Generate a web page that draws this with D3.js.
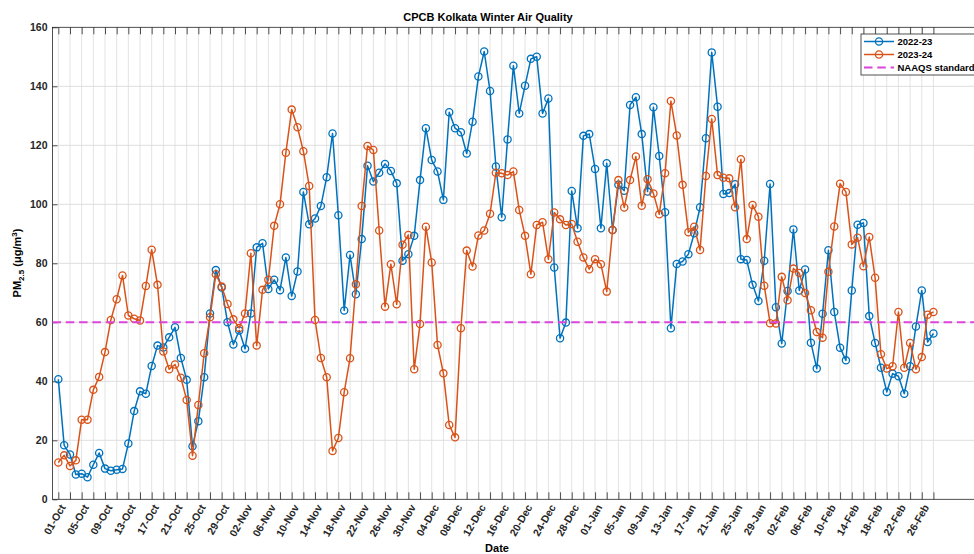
<!DOCTYPE html>
<html>
<head>
<meta charset="utf-8">
<script src="https://cdn.jsdelivr.net/npm/d3@7/dist/d3.min.js"></script>
<style>
  html, body { margin: 0; padding: 0; background: #fff; }
  svg { display: block; font-family: "Liberation Sans", Arial, Helvetica, sans-serif; }
</style>
</head>
<body>
<svg id="chart" width="974" height="554"></svg>
<script>
// Daily PM2.5 (µg/m³), 01-Oct through 28-Feb, one value per day
const season2022 = [
  40.7, 18.3, 15.2, 8.4, 8.7, 7.5, 11.7, 15.7, 10.4, 9.7,
  10.0, 10.3, 18.9, 29.9, 36.6, 35.8, 45.2, 52.1, 51.5, 54.9,
  58.3, 47.9, 40.5, 18.0, 26.5, 41.4, 63.0, 77.7, 71.8, 60.0,
  52.5, 57.2, 51.0, 63.0, 85.4, 86.8, 71.3, 74.4, 70.9, 82.0,
  68.9, 77.2, 104.2, 93.2, 95.2, 99.4, 109.2, 124.0, 96.3, 64.0,
  82.8, 69.5, 88.2, 113.1, 107.7, 110.7, 113.7, 111.3, 107.1, 80.9,
  83.1, 89.3, 108.2, 125.8, 115.0, 111.1, 101.5, 131.2, 125.8, 124.4,
  117.2, 128.0, 143.3, 151.8, 138.4, 112.8, 95.6, 122.0, 147.0, 130.8,
  140.2, 149.3, 150.0, 130.8, 135.9, 78.6, 54.6, 59.9, 104.5, 91.9,
  123.2, 123.8, 112.0, 91.9, 113.9, 91.3, 106.6, 104.6, 133.7, 136.3,
  123.8, 104.3, 132.9, 116.4, 97.3, 58.0, 79.8, 80.6, 83.1, 90.2,
  99.0, 122.4, 151.5, 133.1, 103.5, 103.8, 106.8, 81.4, 81.1, 72.7,
  67.2, 80.9, 106.9, 65.1, 52.8, 70.6, 91.5, 70.8, 77.9, 53.1,
  44.3, 62.9, 84.4, 63.5, 51.4, 47.1, 70.8, 93.1, 93.7, 62.1,
  53.0, 44.6, 36.4, 42.6, 41.7, 35.8, 45.1, 58.6, 70.8, 53.3,
  56.2
];
const season2023 = [
  12.5, 14.9, 11.3, 13.2, 27.0, 27.0, 37.1, 41.5, 49.9, 60.8,
  67.8, 75.9, 62.3, 61.2, 60.6, 72.3, 84.6, 72.7, 50.1, 44.1,
  45.7, 41.2, 33.7, 14.8, 32.0, 49.5, 61.7, 76.3, 72.1, 66.2,
  61.0, 58.1, 63.0, 83.4, 52.1, 71.0, 74.4, 92.7, 100.0, 117.5,
  132.1, 126.1, 118.0, 106.2, 60.8, 47.9, 41.4, 16.4, 20.8, 36.3,
  47.8, 72.9, 99.4, 119.8, 118.4, 91.1, 65.3, 79.7, 66.1, 86.3,
  89.6, 44.1, 59.4, 92.4, 80.3, 52.3, 42.7, 25.2, 21.0, 58.0,
  84.3, 78.9, 89.4, 91.1, 96.8, 110.7, 110.5, 109.9, 111.1, 98.1,
  89.3, 76.3, 93.0, 93.9, 81.4, 97.2, 94.9, 93.0, 93.3, 87.3,
  82.0, 78.0, 81.4, 79.7, 70.4, 91.3, 108.2, 98.9, 108.2, 116.2,
  99.5, 108.5, 103.7, 96.6, 110.5, 135.0, 123.3, 106.6, 90.5, 92.4,
  84.5, 109.6, 128.9, 109.9, 109.0, 108.8, 99.0, 115.3, 88.2, 99.8,
  95.8, 72.4, 59.7, 59.6, 75.4, 67.5, 78.2, 76.7, 69.9, 64.1,
  56.7, 54.8, 77.1, 92.5, 107.0, 104.2, 86.4, 88.7, 79.0, 88.9,
  75.1, 49.2, 44.3, 45.1, 63.5, 44.6, 53.0, 44.1, 48.2, 62.6,
  63.5
];
const seriesNames = ["2022-23", "2023-24"];
const seriesColors = ["#0072BD", "#D95319"];
const standardLabel = "NAAQS standard";
const standardValue = 60;
const yTicks = [0, 20, 40, 60, 80, 100, 120, 140, 160];
const titleText = "CPCB Kolkata Winter Air Quality";
const xLabelText = "Date";

// Calendar of the season (year only used for day arithmetic)
const seasonStart = new Date(2022, 9, 1);
const days = d3.timeDay.range(seasonStart, d3.timeDay.offset(seasonStart, season2022.length));
const fmt = d3.timeFormat("%d-%b");
const tickDays = days.filter((d, i) => i % 2 === 0);
const labelDays = days.filter((d, i) => i % 4 === 0);

const svg = d3.select("#chart");
const plot = { left: 52.5, top: 27.3, bottom: 499.3 };
const dayPx = 5.834;

const x = d3.scaleTime()
  .domain([d3.timeDay.offset(seasonStart, -1), d3.timeDay.offset(seasonStart, 158)])
  .range([plot.left, plot.left + 159 * dayPx]);
const y = d3.scaleLinear().domain([0, 160]).range([plot.bottom, plot.top]);
const plotRight = x.range()[1];

// grid
const grid = svg.append("g");
grid.selectAll("line.v").data(tickDays).join("line")
  .attr("x1", d => x(d)).attr("x2", d => x(d))
  .attr("y1", plot.top).attr("y2", plot.bottom)
  .attr("stroke", "#e3e3e3").attr("stroke-width", 1);
grid.selectAll("line.h").data(yTicks.slice(1, -1)).join("line")
  .attr("x1", plot.left).attr("x2", plotRight)
  .attr("y1", d => y(d)).attr("y2", d => y(d))
  .attr("stroke", "#dedede").attr("stroke-width", 1);

// axes box
const axisColor = "#262626";
svg.append("rect")
  .attr("x", plot.left).attr("y", plot.top)
  .attr("width", plotRight - plot.left).attr("height", plot.bottom - plot.top)
  .attr("fill", "none").attr("stroke", axisColor).attr("stroke-width", 0.8);

// bottom axis: inward ticks every 2 days, labels every 4 days
const xAxis = d3.axisBottom(x).tickValues(tickDays).tickSize(-7).tickFormat(d =>
  labelDays.some(l => +l === +d) ? fmt(d) : "");
const gx = svg.append("g").attr("transform", `translate(0,${plot.bottom})`).call(xAxis);
gx.select(".domain").remove();
gx.selectAll(".tick line").attr("stroke", axisColor).attr("stroke-width", 0.8);
gx.selectAll(".tick text")
  .attr("fill", axisColor)
  .style("font-size", "10.5px").style("font-weight", "bold")
  .attr("text-anchor", "end")
  .attr("transform", "translate(4,6) rotate(-60)")
  .attr("x", 0).attr("y", 0).attr("dy", "0.35em");

// top axis ticks (mirrored)
const gxt = svg.append("g").attr("transform", `translate(0,${plot.top})`)
  .call(d3.axisTop(x).tickValues(tickDays).tickSize(-7).tickFormat(""));
gxt.select(".domain").remove();
gxt.selectAll(".tick line").attr("stroke", axisColor).attr("stroke-width", 0.8);

// left axis
const gy = svg.append("g").attr("transform", `translate(${plot.left},0)`)
  .call(d3.axisLeft(y).tickValues(yTicks).tickSize(-5).tickPadding(5));
gy.select(".domain").remove();
gy.selectAll(".tick line").attr("stroke", axisColor).attr("stroke-width", 0.8);
gy.selectAll(".tick text").attr("fill", axisColor)
  .style("font-size", "10.5px").style("font-weight", "bold");

// series
const seriesData = [season2022, season2023];
const line = d3.line().x((v, i) => x(days[i])).y(v => y(v));
seriesData.forEach((vals, k) => {
  const g = svg.append("g");
  g.append("path").datum(vals).attr("d", line)
    .attr("fill", "none").attr("stroke", seriesColors[k]).attr("stroke-width", 1.5)
    .attr("stroke-linejoin", "round");
  g.selectAll("circle").data(vals).join("circle")
    .attr("cx", (v, i) => x(days[i])).attr("cy", v => y(v)).attr("r", 3.6)
    .attr("fill", "none").attr("stroke", seriesColors[k]).attr("stroke-width", 1.3);
});

// standard line
const stdColor = "#dc45dc";
svg.append("line")
  .attr("x1", plot.left).attr("x2", plotRight)
  .attr("y1", y(standardValue)).attr("y2", y(standardValue))
  .attr("stroke", stdColor).attr("stroke-width", 2).attr("stroke-dasharray", "8.5,4.8");

// title and axis labels
svg.append("text").attr("x", 488).attr("y", 21).attr("text-anchor", "middle")
  .style("font-size", "11px").style("font-weight", "bold").attr("fill", "#000")
  .text(titleText);
svg.append("text").attr("x", 497).attr("y", 552).attr("text-anchor", "middle")
  .style("font-size", "11px").style("font-weight", "bold").attr("fill", "#000")
  .text(xLabelText);
const yl = svg.append("text")
  .attr("transform", "translate(21,263) rotate(-90)").attr("text-anchor", "middle")
  .style("font-size", "11px").style("font-weight", "bold").attr("fill", "#000");
yl.append("tspan").text("PM");
yl.append("tspan").attr("dy", 3).style("font-size", "8px").text("2.5");
yl.append("tspan").attr("dy", -3).text(" (\u03bcg/m");
yl.append("tspan").attr("dy", -4).style("font-size", "8px").text("3");
yl.append("tspan").attr("dy", 4).text(")");

// legend
const lg = svg.append("g").attr("transform", "translate(861,34)");
lg.append("rect").attr("x", 0).attr("y", 0).attr("width", 125).attr("height", 41)
  .attr("fill", "#fff").attr("stroke", axisColor).attr("stroke-width", 0.8);
const legendItems = [
  { name: seriesNames[0], color: seriesColors[0], marker: true, dash: null },
  { name: seriesNames[1], color: seriesColors[1], marker: true, dash: null },
  { name: standardLabel, color: stdColor, marker: false, dash: "8.5,4.8" }
];
legendItems.forEach((it, i) => {
  const ry = 7.5 + i * 13;
  lg.append("line").attr("x1", 3).attr("x2", 33).attr("y1", ry).attr("y2", ry)
    .attr("stroke", it.color).attr("stroke-width", it.marker ? 1.5 : 2)
    .attr("stroke-dasharray", it.dash);
  if (it.marker) {
    lg.append("circle").attr("cx", 18).attr("cy", ry).attr("r", 3.6)
      .attr("fill", "none").attr("stroke", it.color).attr("stroke-width", 1.3);
  }
  lg.append("text").attr("x", 36.5).attr("y", ry).attr("dy", "0.35em")
    .style("font-size", "9.5px").style("font-weight", "bold").attr("fill", "#000")
    .text(it.name);
});
</script>
</body>
</html>
